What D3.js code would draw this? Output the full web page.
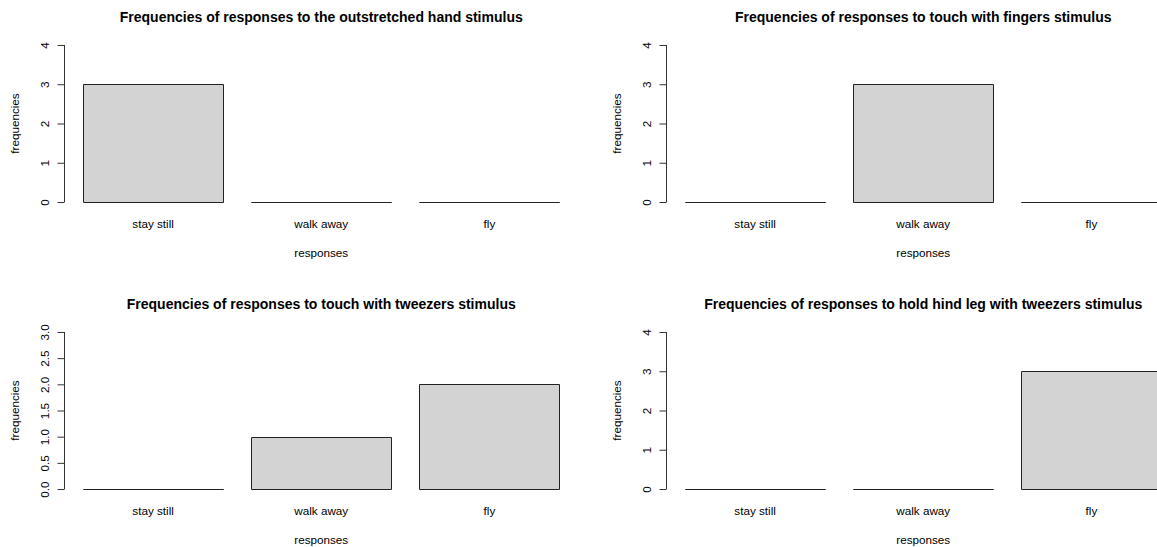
<!DOCTYPE html>
<html>
<head>
<meta charset="utf-8">
<script src="https://cdn.jsdelivr.net/npm/d3@7"></script>
<style>
  html, body { margin: 0; padding: 0; background: #fff; }
  svg { display: block; }
  text { font-family: "Liberation Sans", Arial, sans-serif; fill: #000; }
</style>
</head>
<body>
<svg id="chart" width="1157" height="547"></svg>
<script>
// Response categories shared by all four panels
const responses = ["stay still", "walk away", "fly"];

// Panel titles, one per stimulus
const titles = [
  "Frequencies of responses to the outstretched hand stimulus",
  "Frequencies of responses to touch with fingers stimulus",
  "Frequencies of responses to touch with tweezers stimulus",
  "Frequencies of responses to hold hind leg with tweezers stimulus"
];

// Counts per response for each stimulus
const handCounts     = [3, 0, 0];
const fingersCounts  = [0, 3, 0];
const tweezersCounts = [0, 1, 2];
const hindLegCounts  = [0, 0, 3];

// Upper y limit of each panel and its tick labels
const yMax = [4, 4, 3, 4];
const tickLabels = [
  ["0", "1", "2", "3", "4"],
  ["0", "1", "2", "3", "4"],
  ["0.0", "0.5", "1.0", "1.5", "2.0", "2.5", "3.0"],
  ["0", "1", "2", "3", "4"]
];

const counts = [handCounts, fingersCounts, tweezersCounts, hindLegCounts];

const svg = d3.select("#chart");

// Panel grid geometry (2 x 2)
const panelW = 602, panelH = 287;
const plot = { left: 64, right: 578.5, top: 38.7, bottom: 208.3 };

// Bar layout in user units: width 1, gap 0.2, 4% padding on the x range
const barW = 1, space = 0.2;
const n = responses.length;
const xMin = space, xMaxU = n * (barW + space);
const xPad = (xMaxU - xMin) * 0.04;

counts.forEach((vals, p) => {
  const col = p % 2, row = Math.floor(p / 2);
  const g = svg.append("g")
    .attr("transform", `translate(${col * panelW},${row * panelH})`);

  const x = d3.scaleLinear()
    .domain([xMin - xPad, xMaxU + xPad])
    .range([plot.left, plot.right]);

  const ym = yMax[p];
  const y = d3.scaleLinear()
    .domain([-ym * 0.04, ym * 1.04])
    .range([plot.bottom, plot.top]);

  // Bars drawn as closed outlines so zero counts still show as a line
  g.selectAll("path.bar")
    .data(vals)
    .join("path")
    .attr("class", "bar")
    .attr("d", (d, i) => {
      const x0 = Math.round(x(space + i * (barW + space))) + 0.5;
      const x1 = Math.round(x(space + i * (barW + space) + barW)) + 0.5;
      const y0 = Math.round(y(0)) + 0.5;
      const y1 = Math.round(y(d)) + 0.5;
      return `M${x0},${y0}H${x1}V${y1}H${x0}Z`;
    })
    .attr("fill", "#d3d3d3")
    .attr("stroke", "#222")
    .attr("stroke-width", 1);

  // Category labels under each bar
  g.selectAll("text.cat")
    .data(responses)
    .join("text")
    .attr("class", "cat")
    .attr("x", (d, i) => x(space + i * (barW + space) + barW / 2))
    .attr("y", 228)
    .attr("text-anchor", "middle")
    .attr("font-size", "11.7px")
    .attr("fill", "#222")
    .text(d => d);

  // Y axis
  const tickVals = tickLabels[p].map(Number);
  const axis = d3.axisLeft(y)
    .tickValues(tickVals)
    .tickFormat((d, i) => tickLabels[p][i])
    .tickSize(7)
    .tickSizeOuter(0);
  const ag = g.append("g")
    .attr("transform", `translate(${Math.round(plot.left) + 0.5},0)`)
    .call(axis);
  ag.select(".domain")
    .attr("d", `M0,${y(0)}V${y(ym)}`)
    .attr("stroke", "#333");
  ag.selectAll(".tick line").attr("stroke", "#333");
  ag.selectAll(".tick text")
    .attr("font-family", "Liberation Sans, Arial, sans-serif")
    .attr("font-size", "11.7px")
    .attr("fill", "#222")
    .attr("x", null)
    .attr("dy", null)
    .attr("text-anchor", "middle")
    .attr("transform", "translate(-15.7,0) rotate(-90)");

  // Axis titles
  g.append("text")
    .attr("x", (plot.left + plot.right) / 2)
    .attr("y", 257)
    .attr("text-anchor", "middle")
    .attr("font-size", "11.7px")
    .attr("fill", "#222")
    .text("responses");

  g.append("text")
    .attr("transform", `translate(19,${(plot.top + plot.bottom) / 2}) rotate(-90)`)
    .attr("text-anchor", "middle")
    .attr("font-size", "11.7px")
    .attr("fill", "#222")
    .text("frequencies");

  // Panel title
  g.append("text")
    .attr("x", (plot.left + plot.right) / 2)
    .attr("y", 22)
    .attr("text-anchor", "middle")
    .attr("font-size", "14px")
    .attr("font-weight", "bold")
    .text(titles[p]);
});
</script>
</body>
</html>
